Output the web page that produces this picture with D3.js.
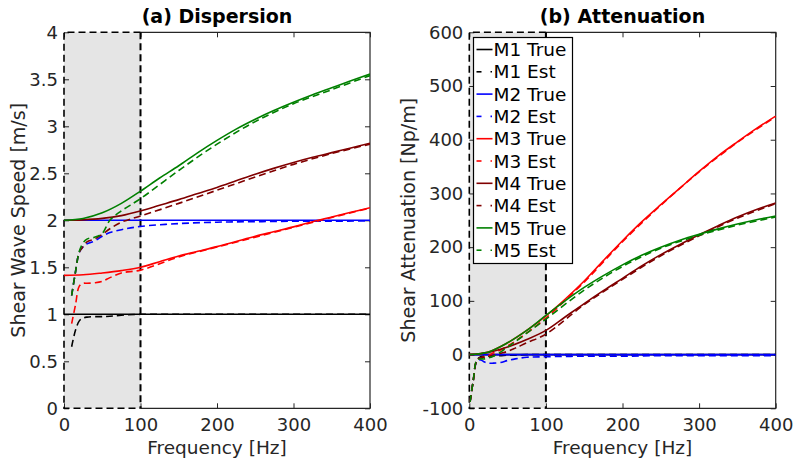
<!DOCTYPE html>
<html>
<head>
<meta charset="utf-8">
<script src="https://cdn.jsdelivr.net/npm/d3@7"></script>
<style>
  body { margin: 0; background: #fff; }
  svg { display: block; font-family: "DejaVu Sans", sans-serif; }
</style>
</head>
<body>
<div id="chart"></div>
<script>
// frequency grids [Hz]
const freqTrue = [0, 25, 50, 75, 100, 125, 150, 175, 200, 225, 250, 275, 300, 325, 350, 375, 400];
const freqEstSpeed = [10, 15, 20, 25, 30, 40, 50, 60, 75, 100, 150, 200, 250, 300, 350, 400];
const freqEstAtt = [1, 5, 10, 15, 20, 25, 30, 40, 50, 60, 75, 100, 150, 200, 250, 300, 350, 400];

const models = ['M1', 'M2', 'M3', 'M4', 'M5'];
const colors = ['#000000', '#0000ff', '#ff0000', '#800000', '#008000'];

// (a) shear wave speed [m/s]
const speedTrueM1 = [1, 1, 1, 1, 1, 1, 1, 1, 1, 1, 1, 1, 1, 1, 1, 1, 1];
const speedTrueM2 = [2, 2, 2, 2, 2, 2, 2, 2, 2, 2, 2, 2, 2, 2, 2, 2, 2];
const speedTrueM3 = [1.414, 1.42, 1.44, 1.465, 1.5, 1.56, 1.62, 1.67, 1.72, 1.775, 1.83, 1.88, 1.93, 1.985, 2.035, 2.085, 2.134];
const speedTrueM4 = [2.0, 2.005, 2.02, 2.05, 2.1, 2.16, 2.22, 2.285, 2.35, 2.42, 2.49, 2.555, 2.615, 2.67, 2.72, 2.77, 2.82];
const speedTrueM5 = [2.0, 2.02, 2.08, 2.18, 2.31, 2.45, 2.58, 2.72, 2.85, 2.97, 3.075, 3.17, 3.255, 3.335, 3.41, 3.485, 3.556];

const speedEstM1 = [0.655, 0.83, 0.93, 0.96, 0.97, 0.975, 0.975, 0.98, 0.99, 1.0, 1.0, 1.0, 1.0, 1.0, 1.0, 1.0];
const speedEstM2 = [1.2, 1.45, 1.66, 1.72, 1.75, 1.78, 1.83, 1.87, 1.9, 1.935, 1.965, 1.98, 1.985, 1.99, 1.99, 1.995];
const speedEstM3 = [0.9, 1.1, 1.3, 1.33, 1.33, 1.335, 1.35, 1.39, 1.44, 1.47, 1.61, 1.715, 1.82, 1.925, 2.03, 2.13];
const speedEstM4 = [1.2, 1.45, 1.66, 1.72, 1.77, 1.8, 1.85, 1.91, 1.98, 2.045, 2.18, 2.32, 2.46, 2.595, 2.71, 2.81];
const speedEstM5 = [1.2, 1.45, 1.67, 1.76, 1.8, 1.82, 1.86, 2.0, 2.1, 2.23, 2.53, 2.81, 3.05, 3.24, 3.39, 3.54];

// (b) shear attenuation [Np/m]
const attTrueM1 = [0, 0, 0, 0, 0, 0, 0, 0, 0, 0, 0, 0, 0, 0, 0, 0, 0];
const attTrueM2 = [0, 0, 0, 0, 0, 0, 0, 0, 0, 0, 0, 0, 0, 0, 0, 0, 0];
const attTrueM3 = [0, 5, 22, 45, 72, 103, 137, 175, 212, 247, 279, 310, 341, 370, 396, 421, 444];
const attTrueM4 = [0, 4, 14, 28, 45, 70, 95, 119, 142, 165, 186, 205, 223, 240, 256, 270, 282];
const attTrueM5 = [0, 5, 22, 45, 73, 100, 125, 147, 167, 185, 200, 213, 224, 234, 243, 251, 258];

const attEstM1 = [-88, -50, -10, -4, -3, -3, -2, -2, -1, -1, 0, 0, 0, 0, 0, 0, 0, 0];
const attEstM2 = [-88, -50, -12, -10, -14, -16, -16, -15, -11, -8, -5, -4, -3, -3, -2, -2, -2, -2];
const attEstM3 = [-88, -50, -10, -6, -4, -2, 2, 8, 16, 25, 40, 68, 135, 210, 278, 340, 395, 443];
const attEstM4 = [-88, -50, -10, -6, -5, -4, -2, 2, 6, 12, 22, 38, 93, 140, 184, 221, 254, 281];
const attEstM5 = [-88, -50, -10, -8, -8, -6, -4, 4, 14, 24, 40, 66, 120, 164, 198, 222, 241, 256];

const speedTicks = [0, 0.5, 1, 1.5, 2, 2.5, 3, 3.5, 4];
const attTicks = [-100, 0, 100, 200, 300, 400, 500, 600];
const freqTicks = [0, 100, 200, 300, 400];

const width = 800, height = 466;
const svg = d3.select('#chart').append('svg')
	.attr('width', width)
	.attr('height', height);

const axisColor = '#262626';

function drawPanel(cfg) {
	const x = d3.scaleLinear().domain([0, 400]).range([cfg.left, cfg.right]);
	const y = d3.scaleLinear().domain(cfg.yDomain).range([cfg.bottom, cfg.top]);
	const g = svg.append('g');

	// shaded low-frequency band
	g.append('rect')
		.attr('x', x(0)).attr('y', cfg.top)
		.attr('width', x(100) - x(0)).attr('height', cfg.bottom - cfg.top)
		.attr('fill', '#e5e5e5');

	// axes box (the part outside the band)
	g.append('path')
		.attr('d', `M${x(100)},${cfg.top}H${cfg.right}V${cfg.bottom}H${x(100)}`)
		.attr('fill', 'none')
		.attr('stroke', axisColor)
		.attr('stroke-width', 1.2);

	// ticks + labels
	const yl = g.append('g').attr('transform', `translate(${cfg.left},0)`)
		.call(d3.axisLeft(y).tickValues(cfg.yTicks).tickSize(-5).tickPadding(6).tickFormat(d => String(d)));
	const yr = g.append('g').attr('transform', `translate(${cfg.right},0)`)
		.call(d3.axisRight(y).tickValues(cfg.yTicks).tickSize(-5).tickFormat(''));
	const xb = g.append('g').attr('transform', `translate(0,${cfg.bottom})`)
		.call(d3.axisBottom(x).tickValues(freqTicks).tickSize(-5).tickPadding(10).tickFormat(d => String(d)));
	const xt = g.append('g').attr('transform', `translate(0,${cfg.top})`)
		.call(d3.axisTop(x).tickValues(freqTicks).tickSize(-5).tickFormat(''));
	[yl, yr, xb, xt].forEach(a => {
		a.select('.domain').remove();
		a.selectAll('line').attr('stroke', axisColor);
		a.selectAll('text').attr('fill', axisColor).style('font-size', '18px').style('font-family', 'DejaVu Sans');
	});
	xb.selectAll('text').attr('dy', '0.71em');

	// dashed outline of the band
	g.append('path')
		.attr('d', `M${x(100)},${cfg.top}H${x(0)}V${cfg.bottom}H${x(100)}`)
		.attr('fill', 'none')
		.attr('stroke', '#000')
		.attr('stroke-width', 1.6)
		.attr('stroke-dasharray', '7,4');
	g.append('line')
		.attr('x1', x(100)).attr('x2', x(100))
		.attr('y1', cfg.top).attr('y2', cfg.bottom)
		.attr('stroke', '#000')
		.attr('stroke-width', 2)
		.attr('stroke-dasharray', '7,4');

	// curves
	const clipId = 'clip-' + cfg.id;
	g.append('clipPath').attr('id', clipId)
		.append('rect')
		.attr('x', cfg.left).attr('y', cfg.top)
		.attr('width', cfg.right - cfg.left).attr('height', cfg.bottom - cfg.top);
	const lines = g.append('g').attr('clip-path', `url(#${clipId})`);
	const line = d3.line().x(d => x(d[0])).y(d => y(d[1])).curve(d3.curveCatmullRom.alpha(0.5));

	models.forEach((m, i) => {
		lines.append('path')
			.datum(d3.zip(freqTrue, cfg.trueVals[i]))
			.attr('d', line)
			.attr('fill', 'none')
			.attr('stroke', colors[i])
			.attr('stroke-width', 1.6);
		lines.append('path')
			.datum(d3.zip(cfg.estFreq, cfg.estVals[i]))
			.attr('d', line)
			.attr('fill', 'none')
			.attr('stroke', colors[i])
			.attr('stroke-width', 1.6)
			.attr('stroke-dasharray', '7,4');
	});

	// title and labels
	g.append('text')
		.attr('x', (cfg.left + cfg.right) / 2).attr('y', 23)
		.attr('text-anchor', 'middle')
		.style('font-size', '19px').style('font-weight', 'bold')
		.attr('fill', '#000')
		.text(cfg.title);
	g.append('text')
		.attr('x', (cfg.left + cfg.right) / 2).attr('y', 454)
		.attr('text-anchor', 'middle')
		.style('font-size', '18.5px')
		.attr('fill', axisColor)
		.text('Frequency [Hz]');
	g.append('text')
		.attr('transform', `translate(${cfg.yLabelX},${(cfg.top + cfg.bottom) / 2}) rotate(-90)`)
		.attr('text-anchor', 'middle')
		.style('font-size', '19px')
		.attr('fill', axisColor)
		.text(cfg.yLabel);

	return { x, y, g };
}

drawPanel({
	id: 'a', left: 64, right: 370, top: 32.3, bottom: 408.3,
	yDomain: [0, 4], yTicks: speedTicks, yLabelX: 25,
	title: '(a) Dispersion', yLabel: 'Shear Wave Speed [m/s]',
	trueVals: [speedTrueM1, speedTrueM2, speedTrueM3, speedTrueM4, speedTrueM5],
	estFreq: freqEstSpeed,
	estVals: [speedEstM1, speedEstM2, speedEstM3, speedEstM4, speedEstM5]
});

drawPanel({
	id: 'b', left: 469.3, right: 775.7, top: 32.3, bottom: 408.3,
	yDomain: [-100, 600], yTicks: attTicks, yLabelX: 415,
	title: '(b) Attenuation', yLabel: 'Shear Attenuation [Np/m]',
	trueVals: [attTrueM1, attTrueM2, attTrueM3, attTrueM4, attTrueM5],
	estFreq: freqEstAtt,
	estVals: [attEstM1, attEstM2, attEstM3, attEstM4, attEstM5]
});

// legend
const legendItems = [];
models.forEach((m, i) => {
	legendItems.push({ label: m + ' True', color: colors[i], dashed: false });
	legendItems.push({ label: m + ' Est', color: colors[i], dashed: true });
});
const leg = svg.append('g').attr('transform', 'translate(473.5,37.5)');
leg.append('rect')
	.attr('width', 99).attr('height', 226)
	.attr('fill', '#fff')
	.attr('stroke', '#000')
	.attr('stroke-width', 1.2);
const row = leg.selectAll('g.item')
	.data(legendItems)
	.enter()
	.append('g')
	.attr('class', 'item')
	.attr('transform', (d, i) => `translate(0,${12 + i * 22.3})`);
row.append('line')
	.attr('x1', 3).attr('x2', 19)
	.attr('stroke', d => d.color)
	.attr('stroke-width', 1.6)
	.attr('stroke-dasharray', d => d.dashed ? '5,11' : null);
row.filter(d => d.dashed).append('line')
	.attr('x1', 17).attr('x2', 18.5)
	.attr('stroke', d => d.color)
	.attr('stroke-width', 1.6);
row.append('text')
	.attr('x', 20).attr('dy', '0.36em')
	.style('font-size', '18.5px')
	.attr('fill', '#000')
	.text(d => d.label);
</script>
</body>
</html>
